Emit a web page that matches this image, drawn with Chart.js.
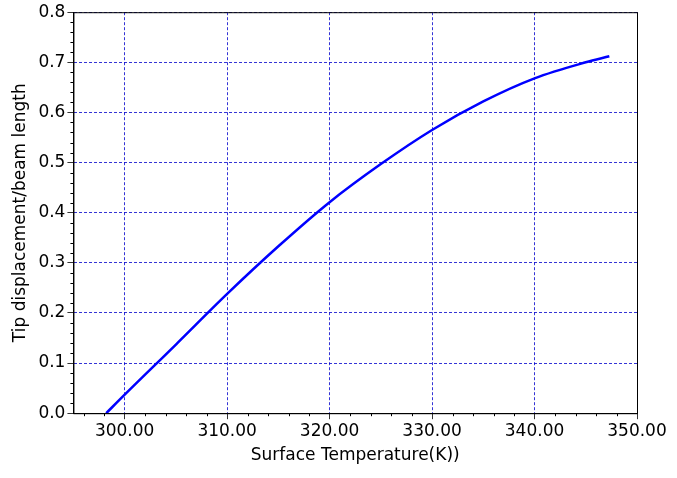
<!DOCTYPE html>
<html><head><script src="https://cdn.jsdelivr.net/npm/chart.js@4"></script>
<style>body{margin:0;background:#fff}#w{width:677px;height:478px}</style></head>
<body><div id="w"><canvas id="c"></canvas></div>
<script>
const temps=[298.2,300,305,310,315,320,325,330,335,340,345,347.3];
const disp=[0,0.037,0.137,0.238,0.333,0.421,0.497,0.565,0.622,0.668,0.700,0.712];
const xMinor=[296,298,302,304,306,308,312,314,316,318,322,324,326,328,332,334,336,338,342,344,346,348];
const yMinor=[];for(let i=0;i<=40;i++){if(i%5)yMinor.push(i*0.02);}
const minorTicks={id:'mt',afterDraw(ch){const c=ch.ctx,x=ch.scales.x,y=ch.scales.y;c.save();c.strokeStyle='#000';c.lineWidth=1;
xMinor.forEach(v=>{const p=Math.round(x.getPixelForValue(v))+0.5;c.beginPath();c.moveTo(p,y.bottom);c.lineTo(p,y.bottom+3);c.stroke();});
yMinor.forEach(v=>{const p=Math.round(y.getPixelForValue(v))+0.5;c.beginPath();c.moveTo(x.left,p);c.lineTo(x.left-3,p);c.stroke();});
c.setLineDash([]);c.strokeRect(x.left+0.5,y.top+0.5,x.right-x.left,y.bottom-y.top);c.restore();}};
const F={family:'DejaVu Sans',size:17};
new Chart(document.getElementById('c'),{type:'scatter',
data:{datasets:[{data:temps.map((t,i)=>({x:t,y:disp[i]})),showLine:true,borderColor:'#0000ff',borderWidth:2.5,pointRadius:0,cubicInterpolationMode:'monotone'}]},
options:{responsive:true,maintainAspectRatio:false,animation:false,layout:{padding:{top:8,right:40,left:6,bottom:8}},
plugins:{legend:{display:false},tooltip:{enabled:false}},
scales:{x:{min:295,max:350,afterBuildTicks(s){s.ticks=[300,310,320,330,340,350].map(v=>({value:v}));},
ticks:{color:'#000',font:F,callback:v=>v.toFixed(2),maxRotation:0,padding:2},
grid:{color:'#0000cc',lineWidth:0.8,tickColor:'#000',tickLength:6},border:{dash:[3,2],color:'#000'},
title:{display:true,text:'Surface Temperature(K))',color:'#000',font:F,padding:{top:2}}},
y:{min:0,max:0.8,ticks:{stepSize:0.1,color:'#000',font:F,callback:v=>v.toFixed(1),padding:2},
grid:{color:'#0000cc',lineWidth:0.8,tickColor:'#000',tickLength:6},border:{dash:[3,2],color:'#000'},
title:{display:true,text:'Tip displacement/beam length',color:'#000',font:F,padding:{bottom:6}}}}},
plugins:[minorTicks]});
</script></body></html>
